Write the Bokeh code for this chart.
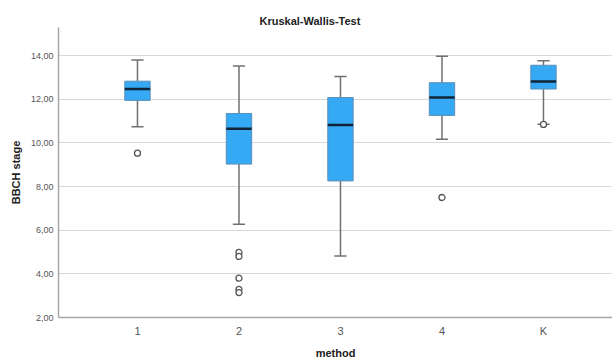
from bokeh.plotting import figure
from bokeh.models import FixedTicker, CustomJSTickFormatter, ColumnDataSource, Range1d
from bokeh.embed import file_html
from bokeh.resources import INLINE

# ---- data ----
methods = ["1", "2", "3", "4", "K"]
whisker_low = [10.74, 6.27, 4.82, 10.17, 10.86]
q1 = [11.95, 9.03, 8.26, 11.26, 12.47]
median = [12.47, 10.65, 10.82, 12.08, 12.82]
q3 = [12.83, 11.35, 12.08, 12.76, 13.56]
whisker_high = [13.80, 13.52, 13.05, 13.97, 13.77]

outlier_method = ["1", "2", "2", "2", "2", "2", "4", "K"]
outlier_value = [9.53, 4.98, 4.80, 3.80, 3.29, 3.14, 7.50, 10.85]

y_ticks = [2, 4, 6, 8, 10, 12, 14]

# ---- positions through a numeric scale ----
pos = [i + 1 for i in range(len(methods))]
box_w = 0.25
cap_w = 0.12

src = ColumnDataSource(dict(
    x=pos, lo=whisker_low, q1=q1, med=median, q3=q3, hi=whisker_high,
    left=[p_ - box_w / 2 for p_ in pos], right=[p_ + box_w / 2 for p_ in pos],
    cl=[p_ - cap_w / 2 for p_ in pos], cr=[p_ + cap_w / 2 for p_ in pos],
))
out_src = ColumnDataSource(dict(
    x=[methods.index(m) + 1 for m in outlier_method], y=outlier_value))

FONT = "Liberation Sans"

p = figure(width=612, height=361, output_backend="svg", toolbar_location=None,
           x_range=Range1d(0.222, 5.68), y_range=Range1d(2, 15.29),
           title="Kruskal-Wallis-Test",
           min_border_left=58, min_border_right=0, min_border_top=27,
           min_border_bottom=40)
p.outline_line_color = None
p.background_fill_color = "white"
p.border_fill_color = "white"

p.title.text_font = FONT
p.title.text_font_size = "11px"
p.title.text_font_style = "bold"
p.title.text_color = "#222222"
p.title.align = "left"
p.title.offset = 201
p.title.standoff = 2

# grids
p.xgrid.grid_line_color = None
p.ygrid.grid_line_color = "#d9d9d9"
p.ygrid.grid_line_width = 1.2
p.ygrid.ticker = FixedTicker(ticks=y_ticks)

# axes
p.yaxis.ticker = FixedTicker(ticks=y_ticks)
p.yaxis.formatter = CustomJSTickFormatter(code="return tick.toFixed(2).replace('.', ',');")
p.xaxis.ticker = FixedTicker(ticks=pos)
p.xaxis.formatter = CustomJSTickFormatter(args=dict(labels=methods),
                                          code="return labels[Math.round(tick) - 1];")
for ax in (p.xaxis[0], p.yaxis[0]):
    ax.axis_line_color = "#a8a8a8"
    ax.axis_line_width = 1.5
    ax.major_tick_line_color = None
    ax.minor_tick_line_color = None
    ax.major_tick_out = 0
    ax.major_tick_in = 0
    ax.minor_tick_out = 0
    ax.minor_tick_in = 0
    ax.major_label_text_font = FONT
    ax.major_label_text_color = "#555555"
    ax.axis_label_text_font = FONT
    ax.axis_label_text_font_style = "bold"
    ax.axis_label_text_color = "#222222"
    ax.axis_label_text_font_size = "11px"
p.yaxis.major_label_text_font_size = "9px"
p.yaxis.major_label_standoff = 5
p.xaxis.major_label_text_font_size = "11px"
p.xaxis.major_label_standoff = 7
p.xaxis.axis_label = "method"
p.yaxis.axis_label = "BBCH stage"
p.xaxis.axis_label_standoff = 7
p.yaxis.axis_label_standoff = 6

# whiskers
wcol = "#707070"
p.segment(x0="x", y0="q3", x1="x", y1="hi", source=src, line_color=wcol, line_width=1.5)
p.segment(x0="x", y0="q1", x1="x", y1="lo", source=src, line_color=wcol, line_width=1.5)
p.segment(x0="cl", y0="hi", x1="cr", y1="hi", source=src, line_color=wcol, line_width=1.5)
p.segment(x0="cl", y0="lo", x1="cr", y1="lo", source=src, line_color=wcol, line_width=1.5)

# boxes
p.quad(left="left", right="right", bottom="q1", top="q3", source=src,
       fill_color="#36A9F4", line_color="#5b8fb8", line_width=1)
# medians
p.segment(x0="left", y0="med", x1="right", y1="med", source=src,
          line_color="#0f2436", line_width=2.5)

# outliers
p.scatter(x="x", y="y", source=out_src, size=6, marker="circle",
          fill_color="white", line_color="#555555", line_width=1.3)

open("out.html", "w").write(file_html(p, INLINE))
